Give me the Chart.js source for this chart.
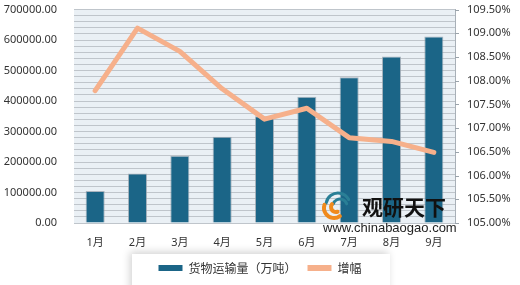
<!DOCTYPE html>
<html>
<head>
<meta charset="utf-8">
<script src="https://cdn.jsdelivr.net/npm/chart.js@4.4.0/dist/chart.umd.min.js"></script>
<style>
  html, body { margin: 0; padding: 0; background: #fff; }
  #wrap { width: 520px; height: 285px; }
</style>
</head>
<body>
<div id="wrap"><canvas id="grafico" width="520" height="285"></canvas></div>
<script>
// dados do gráfico
const meses = ['1月', '2月', '3月', '4月', '5月', '6月', '7月', '8月', '9月'];
const volume = [105000, 162000, 221000, 283000, 350000, 414000, 478000, 546000, 612000];
const crescimento = [107.79, 109.11, 108.62, 107.83, 107.19, 107.42, 106.80, 106.72, 106.49];

const corBarra = '#1b6587';
const corLinha = '#f6b08b';

// fundo da área do gráfico + caixa da legenda
const fundo = {
  id: 'fundo',
  beforeDraw(chart) {
    const { ctx, chartArea: a } = chart;
    ctx.save();
    ctx.fillStyle = '#eaf0f5';
    ctx.fillRect(a.left, a.top, a.right - a.left, a.bottom - a.top);
    ctx.shadowColor = 'rgba(0,0,0,0.18)';
    ctx.shadowBlur = 8;
    ctx.shadowOffsetX = -2;
    ctx.shadowOffsetY = -2;
    ctx.fillStyle = '#fff';
    ctx.fillRect(132, 254, 258, 40);
    ctx.restore();
  },
  // tracinhos do eixo direito
  afterDraw(chart) {
    const { ctx, scales } = chart;
    const s = scales.y1;
    ctx.save();
    ctx.strokeStyle = '#9aa3ab';
    ctx.lineWidth = 1;
    s.ticks.forEach(t => {
      const y = Math.round(s.getPixelForValue(t.value)) + 0.5;
      ctx.beginPath();
      ctx.moveTo(s.left, y);
      ctx.lineTo(s.left + 4, y);
      ctx.stroke();
    });
    ctx.restore();
  }
};

// marca d'água
const marca = {
  id: 'marca',
  afterDraw(chart) {
    const ctx = chart.ctx;
    ctx.save();
    // logo simples
    ctx.lineCap = 'round';
    ctx.strokeStyle = '#2a7f96';
    ctx.lineWidth = 3;
    ctx.beginPath(); ctx.arc(338, 205, 12, Math.PI * 1.05, Math.PI * 1.85); ctx.stroke();
    ctx.beginPath(); ctx.arc(340, 206, 7, Math.PI * 1.1, Math.PI * 1.9); ctx.stroke();
    ctx.strokeStyle = '#f08a1c';
    ctx.lineWidth = 4;
    ctx.beginPath(); ctx.arc(334, 208, 10, Math.PI * 0.3, Math.PI * 1.1); ctx.stroke();
    ctx.beginPath(); ctx.arc(336, 207, 5, Math.PI * 0.4, Math.PI * 1.2); ctx.stroke();
    // textos
    ctx.fillStyle = '#111';
    ctx.font = 'bold 21px "Noto Sans CJK SC"';
    ctx.textBaseline = 'middle';
    ctx.fillText('观研天下', 362, 207);
    ctx.fillStyle = '#222';
    ctx.font = '13px "Liberation Sans"';
    ctx.fillText('www.chinabaogao.com', 323, 228);
    ctx.restore();
  }
};

new Chart(document.getElementById('grafico'), {
  type: 'bar',
  data: {
    labels: meses,
    datasets: [
      {
        type: 'line', label: '增幅', data: crescimento, yAxisID: 'y1',
        borderColor: corLinha, backgroundColor: corLinha, borderWidth: 5,
        pointRadius: 0, tension: 0, borderCapStyle: 'round', borderJoinStyle: 'round'
      },
      {
        type: 'bar', label: '货物运输量（万吨）', data: volume, yAxisID: 'y',
        backgroundColor: corBarra, borderColor: 'rgba(150,162,172,0.75)', borderWidth: 1,
        barPercentage: 0.45, categoryPercentage: 1
      }
    ]
  },
  options: {
    responsive: false,
    animation: false,
    layout: { padding: { top: 0, bottom: 1, left: 0, right: 0 } },
    plugins: {
      tooltip: { enabled: false },
      legend: {
        position: 'bottom',
        reverse: true,
        labels: {
          boxWidth: 24, boxHeight: 6, padding: 11,
          color: '#333',
          font: { family: '"Noto Sans CJK SC"', size: 12 },
          generateLabels(chart) {
            return chart.data.datasets.map((d, i) => ({
              text: d.label, fillStyle: d.type === 'line' ? corLinha : corBarra,
              strokeStyle: 'rgba(0,0,0,0)', lineWidth: 0, datasetIndex: i,
              fontColor: '#333'
            }));
          }
        }
      }
    },
    scales: {
      x: {
        grid: { display: false },
        border: { display: false },
        ticks: { color: '#333', padding: 5, font: { family: '"Noto Sans", "Noto Sans CJK SC"', size: 11 } },
        afterFit(s) { s.height = 28; }
      },
      y: {
        position: 'left', min: 0, max: 700000,
        grid: { color: '#bfc5cb', lineWidth: 1, tickLength: 14, tickColor: 'rgba(0,0,0,0)' },
        border: { display: false },
        ticks: {
          stepSize: 20000, padding: 3, color: '#333', autoSkip: false,
          font: { family: '"Noto Sans"', size: 11 },
          callback: v => v % 100000 === 0 ? v.toFixed(2) : ''
        },
        afterFit(s) { s.width = 74; }
      },
      y1: {
        position: 'right', min: 105, max: 109.5,
        grid: { drawOnChartArea: false, tickLength: 9, tickColor: 'rgba(0,0,0,0)' },
        border: { display: true, color: '#a8b0b8' },
        ticks: {
          stepSize: 0.5, padding: 3, color: '#333',
          font: { family: '"Noto Sans"', size: 11 },
          callback: v => v.toFixed(2) + '%'
        },
        afterFit(s) { s.width = 65; }
      }
    }
  },
  plugins: [fundo, marca]
});
</script>
</body>
</html>
